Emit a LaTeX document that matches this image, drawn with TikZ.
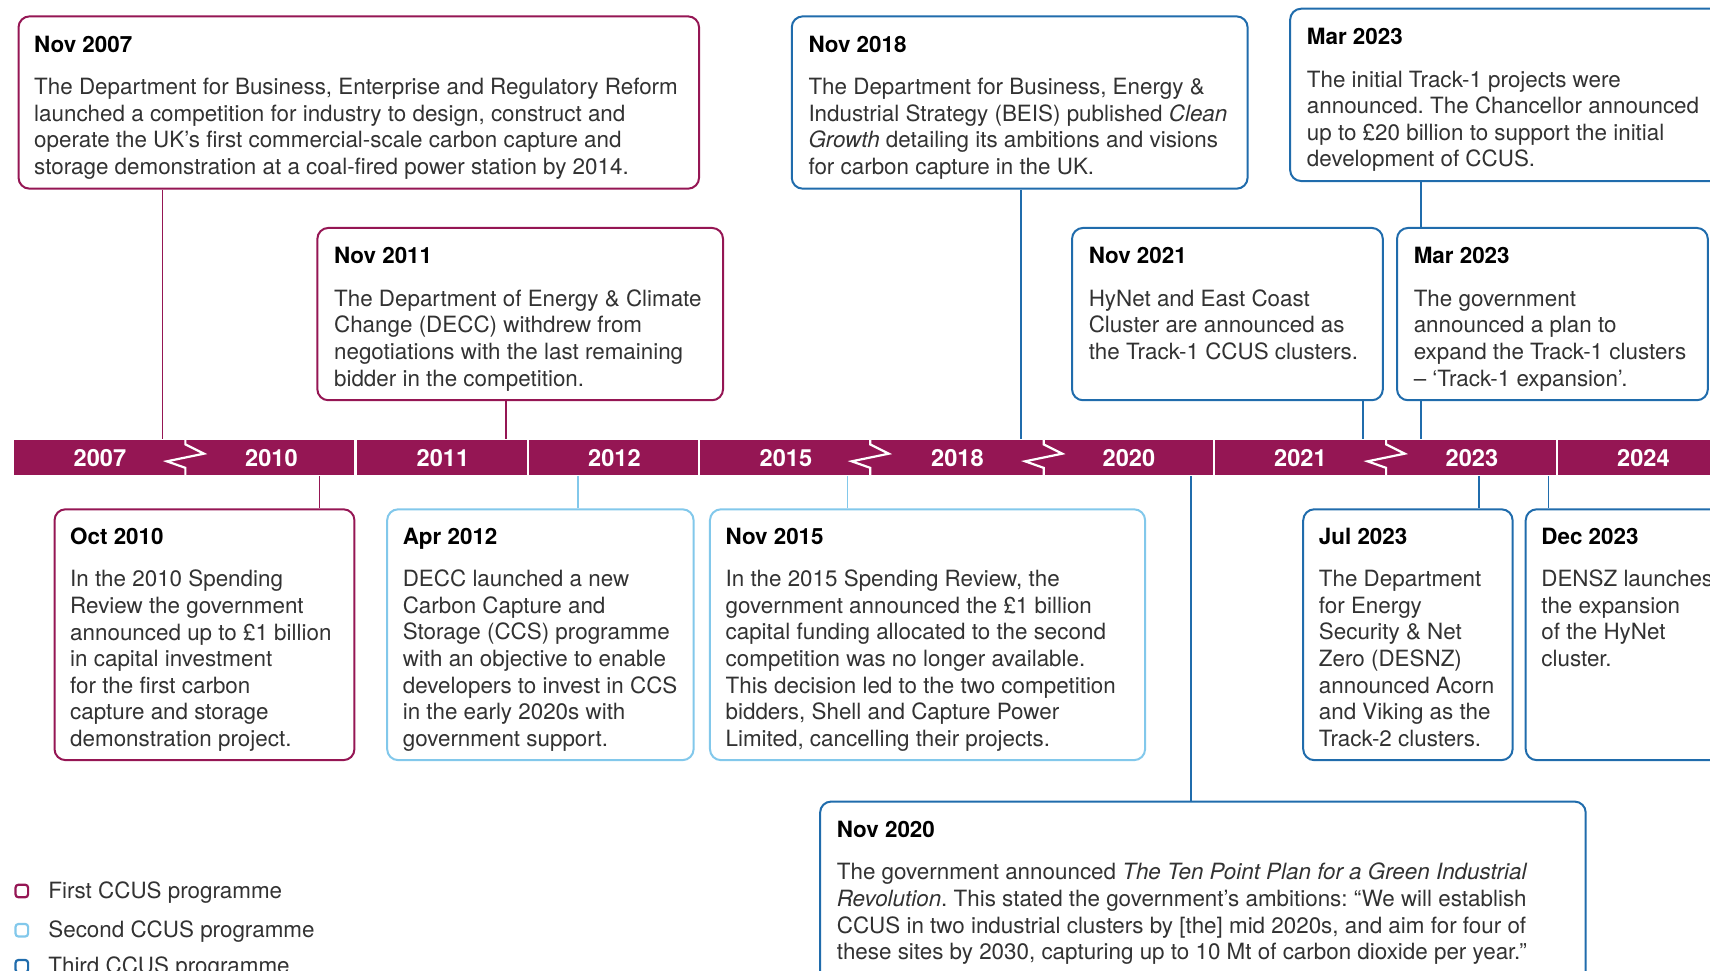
\documentclass[tikz,border=0pt]{standalone}
\usepackage{fontspec}
\setmainfont{TeX Gyre Heros}
\usetikzlibrary{fit}
\definecolor{ccusone}{RGB}{149,22,84}
\definecolor{ccustwo}{RGB}{130,200,235}
\definecolor{ccusthree}{RGB}{32,108,172}
\definecolor{bodygrey}{RGB}{50,50,50}
\newcommand{\evdate}[1]{\textcolor{black}{\textbf{#1}}}
\frenchspacing

\begin{document}
\begin{tikzpicture}[
    evbox/.style={draw=#1, line width=1pt, rounded corners=5.5pt, fill=white, inner sep=0pt},
    evtext/.style={anchor=north west, align=left, inner sep=0pt, text=bodygrey, font=\fontsize{11.2}{13.3}\selectfont},
    link/.style={draw=#1, line width=0.8pt},
    yearlbl/.style={anchor=base, inner sep=0pt, text=white, font=\fontsize{11.8}{14}\selectfont\bfseries},
    legbox/.style={draw=#1, line width=1.1pt, rounded corners=1.5pt, minimum size=6.3pt, inner sep=0pt},
    legtext/.style={anchor=base west, inner sep=0pt, text=bodygrey, font=\fontsize{11.2}{13.3}\selectfont}
  ]
  \begin{scope}[x=0.5453pt, y=-0.5453pt]
    \useasboundingbox (0,0) rectangle (1568,890);
    \clip (0,0) rectangle (1568,890);

    \node [fit={(13,403) (1600,436)}, inner sep=0pt, fill=ccusone] (bar) {};
    \foreach \d in {326,484,641,1113,1428}
      \draw [white, line width=1.1pt] (bar.north -| \d,0) -- (bar.south -| \d,0);
    \foreach \c in {170,798,957,1271}
      \draw [white, line width=1.1pt] (\c,402) -- (\c,407.5) -- (\c+17,416) -- (\c-17,423) -- (\c,429) -- (\c,437);
    \foreach \yr [count=\i] in {2007,2010,2011,2012,2015,2018,2020,2021,2023,2024}
      \node [yearlbl] (y\yr) at (13+157.25*\i-78.6,427.5) {\yr};

    \node [evbox=ccusone, fit={(17,15) (641,173)}] (nov07) {};
    \node [evbox=ccusone, fit={(291,209) (663,367)}] (nov11) {};
    \node [evbox=ccusthree, fit={(726,15) (1144,173)}] (nov18) {};
    \node [evbox=ccusthree, fit={(1183,8) (1600,166)}] (mar23a) {};
    \node [evbox=ccusthree, fit={(983,209) (1268,367)}] (nov21) {};
    \node [evbox=ccusthree, fit={(1281,209) (1566,367)}] (mar23b) {};
    \node [evbox=ccusone, fit={(50,467) (325,697)}] (oct10) {};
    \node [evbox=ccustwo, fit={(355,467) (636,697)}] (apr12) {};
    \node [evbox=ccustwo, fit={(651,467) (1050,697)}] (nov15) {};
    \node [evbox=ccusthree, fit={(1195,467) (1387,697)}] (jul23) {};
    \node [evbox=ccusthree, fit={(1399,467) (1600,697)}] (dec23) {};
    \node [evbox=ccusthree, fit={(752,735) (1454,930)}] (nov20) {};

    \draw [link=ccusone] (nov07.south -| 149,0) -- (bar.north -| 149,0);
    \draw [link=ccusone] (nov11.south -| 464,0) -- (bar.north -| 464,0);
    \draw [link=ccusthree] (nov18.south -| 936,0) -- (bar.north -| 936,0);
    \draw [link=ccusthree] (mar23a.south -| 1303,0) -- (mar23b.north -| 1303,0);
    \draw [link=ccusthree] (mar23b.south -| 1303,0) -- (bar.north -| 1303,0);
    \draw [link=ccusthree] (nov21.south -| 1250,0) -- (bar.north -| 1250,0);
    \draw [link=ccusone] (bar.south -| 293,0) -- (oct10.north -| 293,0);
    \draw [link=ccustwo] (bar.south -| 530,0) -- (apr12.north -| 530,0);
    \draw [link=ccustwo] (bar.south -| 777,0) -- (nov15.north -| 777,0);
    \draw [link=ccusthree] (bar.south -| 1092,0) -- (nov20.north -| 1092,0);
    \draw [link=ccusthree] (bar.south -| 1356,0) -- (jul23.north -| 1356,0);
    \draw [link=ccusthree] (bar.south -| 1420,0) -- (dec23.north -| 1420,0);

    \node [evtext] (nov07t) at (31,32.5) {\evdate{Nov 2007}\\[8pt]
      The Department for Business, Enterprise and Regulatory Reform\\
      launched a competition for industry to design, construct and\\
      operate the UK’s first commercial-scale carbon capture and\\
      storage demonstration at a coal-fired power station by 2014.};
    \node [evtext] (nov11t) at (306,226.5) {\evdate{Nov 2011}\\[8pt]
      The Department of Energy \& Climate\\
      Change (DECC) withdrew from\\
      negotiations with the last remaining\\
      bidder in the competition.};
    \node [evtext] (nov18t) at (741,32.5) {\evdate{Nov 2018}\\[8pt]
      The Department for Business, Energy \&\\
      Industrial Strategy (BEIS) published \emph{Clean}\\
      \emph{Growth} detailing its ambitions and visions\\
      for carbon capture in the UK.};
    \node [evtext] (mar23at) at (1198,25.5) {\evdate{Mar 2023}\\[8pt]
      The initial Track-1 projects were\\
      announced. The Chancellor announced\\
      up to £20 billion to support the initial\\
      development of CCUS.};
    \node [evtext] (nov21t) at (998,226.5) {\evdate{Nov 2021}\\[8pt]
      HyNet and East Coast\\
      Cluster are announced as\\
      the Track-1 CCUS clusters.};
    \node [evtext] (mar23bt) at (1296,226.5) {\evdate{Mar 2023}\\[8pt]
      The government\\
      announced a plan to\\
      expand the Track-1 clusters\\
      – ‘Track-1 expansion’.};
    \node [evtext] (oct10t) at (64,483.5) {\evdate{Oct 2010}\\[8pt]
      In the 2010 Spending\\
      Review the government\\
      announced up to £1 billion\\
      in capital investment\\
      for the first carbon\\
      capture and storage\\
      demonstration project.};
    \node [evtext] (apr12t) at (369,483.5) {\evdate{Apr 2012}\\[8pt]
      DECC launched a new\\
      Carbon Capture and\\
      Storage (CCS) programme\\
      with an objective to enable\\
      developers to invest in CCS\\
      in the early 2020s with\\
      government support.};
    \node [evtext] (nov15t) at (665,483.5) {\evdate{Nov 2015}\\[8pt]
      In the 2015 Spending Review, the\\
      government announced the £1 billion\\
      capital funding allocated to the second\\
      competition was no longer available.\\
      This decision led to the two competition\\
      bidders, Shell and Capture Power\\
      Limited, cancelling their projects.};
    \node [evtext] (jul23t) at (1209,483.5) {\evdate{Jul 2023}\\[8pt]
      The Department\\
      for Energy\\
      Security \& Net\\
      Zero (DESNZ)\\
      announced Acorn\\
      and Viking as the\\
      Track-2 clusters.};
    \node [evtext] (dec23t) at (1413,483.5) {\evdate{Dec 2023}\\[8pt]
      DENSZ launches\\
      the expansion\\
      of the HyNet\\
      cluster.};
    \node [evtext] (nov20t) at (767,752.5) {\evdate{Nov 2020}\\[8pt]
      The government announced \emph{The Ten Point Plan for a Green Industrial}\\
      \emph{Revolution}. This stated the government’s ambitions: “We will establish\\
      CCUS in two industrial clusters by [the] mid 2020s, and aim for four of\\
      these sites by 2030, capturing up to 10 Mt of carbon dioxide per year.”};

    \node [legbox=ccusone] (lg1) at (20,817) {};
    \node [legbox=ccustwo] (lg2) at (20,853) {};
    \node [legbox=ccusthree] (lg3) at (20,886) {};
    \node [legtext] (lg1t) at (44,823.5) {First CCUS programme};
    \node [legtext] (lg2t) at (44,859.5) {Second CCUS programme};
    \node [legtext] (lg3t) at (44,892.5) {Third CCUS programme};
  \end{scope}
\end{tikzpicture}
\end{document}
